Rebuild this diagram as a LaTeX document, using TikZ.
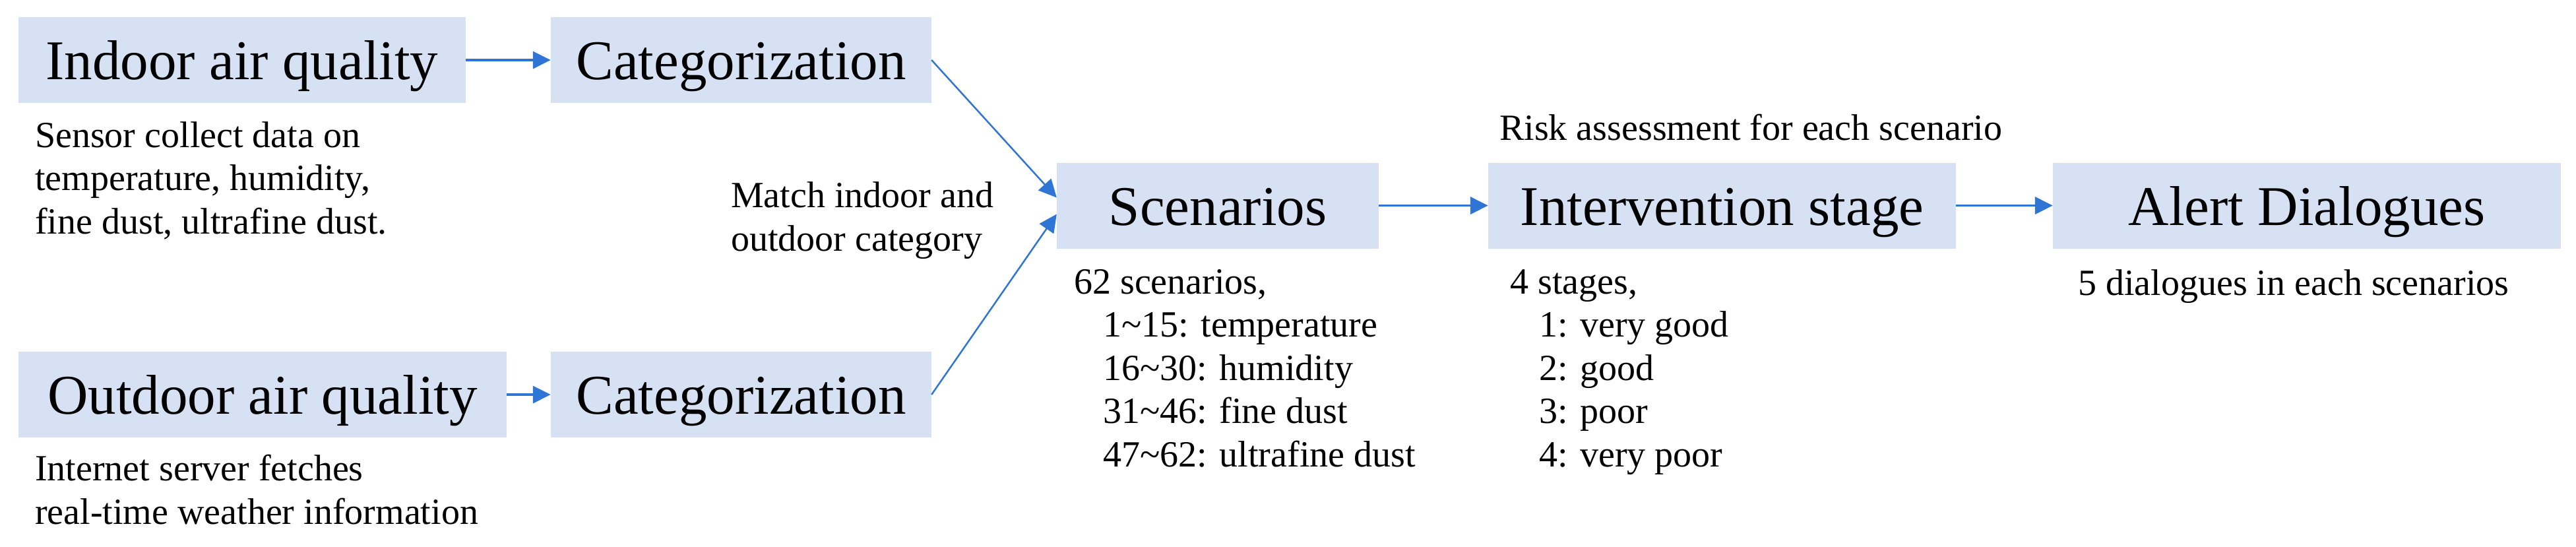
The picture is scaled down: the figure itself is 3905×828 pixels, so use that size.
\documentclass[tikz,border=0pt]{standalone}
\usepackage{fontspec}
\setmainfont{Liberation Serif}
\usetikzlibrary{arrows.meta,calc}
\definecolor{boxfill}{HTML}{D6E2F3}
\definecolor{arrowblue}{HTML}{2E75D6}
\begin{document}
\begin{tikzpicture}[x=1pt,y=-1pt,
  box/.style={fill=boxfill, draw=none, inner sep=0pt, minimum height=130pt,
    font=\fontsize{85}{100}\selectfont, text height=59.5pt, text depth=0pt},
  note/.style={anchor=base west, inner sep=0pt, align=left,
    font=\fontsize{56}{65.5}\selectfont},
  flow/.style={draw=arrowblue, line width=3.5pt, -{Triangle[length=27pt,width=26pt]}},
  joinarrow/.style={draw=arrowblue, line width=2.5pt, -{Triangle[length=27pt,width=26pt]}}]
\fill[white] (0,0) rectangle (3905,828);
\useasboundingbox (0,0) rectangle (3905,828);

% boxes
\node[box, minimum width=678pt] (ind) at (367,91) {Indoor air quality};
\node[box, minimum width=577pt] (cat1) at (1123.5,91) {Categorization};
\node[box, minimum width=740pt] (out) at (398,598) {Outdoor air quality};
\node[box, minimum width=577pt] (cat2) at (1123.5,598) {Categorization};
\node[box, minimum width=488pt] (scen) at (1846,311.5) {Scenarios};
\node[box, minimum width=709pt] (inter) at (2610.5,311.5) {Intervention stage};
\node[box, minimum width=770pt] (alert) at (3497,311.5) {Alert Dialogues};

% notes (anchor = baseline of the last line)
\node[note] (indnote) at (53,354) {Sensor collect data on\\temperature, humidity,\\fine dust, ultrafine dust.};
\node[note] (outnote) at (53,794) {Internet server fetches\\real-time weather information};
\node[note] (matchnote) at (1108,380) {Match indoor and\\outdoor category};
\node[note] (risknote) at (2273,212) {Risk assessment for each scenario};
\node[note] (scennote) at (1628,707) {62 scenarios,\\
  \hspace*{44pt}1\textasciitilde15: temperature\\
  \hspace*{44pt}16\textasciitilde30: humidity\\
  \hspace*{44pt}31\textasciitilde46: fine dust\\
  \hspace*{44pt}47\textasciitilde62: ultrafine dust};
\node[note] (stagenote) at (2289,707) {4 stages,\\
  \hspace*{44pt}1: very good\\
  \hspace*{44pt}2: good\\
  \hspace*{44pt}3: poor\\
  \hspace*{44pt}4: very poor};
\node[note] (alertnote) at (3150,447) {5 dialogues in each scenarios};

% connectors
\draw[flow] (ind.east) -- (cat1.west);
\draw[flow] (out.east) -- (cat2.west);
\draw[joinarrow] (cat1.east) -- ($(scen.west)+(0,-12)$);
\draw[joinarrow] (cat2.east) -- ($(scen.west)+(0,13)$);
\draw[flow] (scen.east) -- (inter.west);
\draw[flow] (inter.east) -- (alert.west);
\end{tikzpicture}
\end{document}
